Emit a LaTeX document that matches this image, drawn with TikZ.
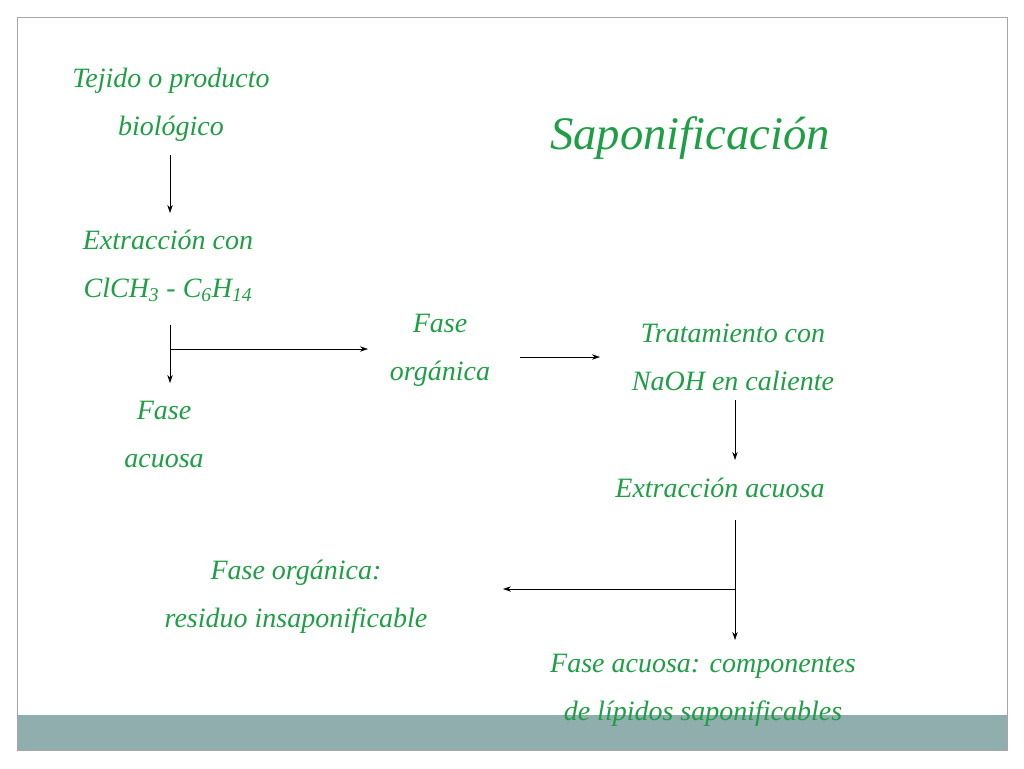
\documentclass[tikz,border=0pt]{standalone}
\usepackage{fontspec}
\setmainfont{Liberation Serif}
\usetikzlibrary{arrows.meta}
\definecolor{tg}{HTML}{1E9E45}
\definecolor{barc}{HTML}{8FAEAD}
\begin{document}
\begin{tikzpicture}[x=0.75pt,y=-0.75pt,
  lab/.style={text=tg,font=\itshape\fontsize{21}{36}\selectfont,align=center,inner sep=0pt},
  arr/.style={-{Stealth[length=6pt,width=4pt]},thin,black}]
\useasboundingbox (0,0) rectangle (1024,768);
\fill[barc] (17,715) rectangle (1007,750);
\draw[gray!70] (17,17) rectangle (1007,750);
\node[lab] (t) at (171,105) {Tejido o producto\\biológico};
\node[lab,font=\itshape\fontsize{35}{40}\selectfont] (s) at (690,138) {Saponificación};
\node[lab] (e) at (168,266) {Extracción con\\ClCH\textsubscript{3} - C\textsubscript{6}H\textsubscript{14}};
\node[lab] (fa) at (164,434) {Fase\\acuosa};
\node[lab] (fo) at (440,350) {Fase\\orgánica};
\node[lab] (n) at (733,357) {Tratamiento con\\NaOH en caliente};
\node[lab] (ea) at (720,488) {Extracción acuosa};
\node[lab] (r) at (296,597) {Fase orgánica:\\residuo insaponificable};
\node[lab] (c) at (703,690) {Fase acuosa: componentes\\de lípidos saponificables};
\coordinate (a1) at (170,155); \coordinate (a2) at (170,213);
\draw[arr] (a1) -- (a2);
\coordinate (b1) at (170,325); \coordinate (b2) at (170,383);
\draw[arr] (b1) -- (b2);
\coordinate (h1) at (170,349); \coordinate (h2) at (368,349);
\draw[arr] (h1) -- (h2);
\coordinate (g1) at (520,357); \coordinate (g2) at (600,357);
\draw[arr] (g1) -- (g2);
\coordinate (d1) at (735,400); \coordinate (d2) at (735,460);
\draw[arr] (d1) -- (d2);
\coordinate (k1) at (735,520); \coordinate (k2) at (735,640);
\draw[arr] (k1) -- (k2);
\coordinate (m1) at (735,589); \coordinate (m2) at (503,589);
\draw[arr] (m1) -- (m2);
\end{tikzpicture}
\end{document}
